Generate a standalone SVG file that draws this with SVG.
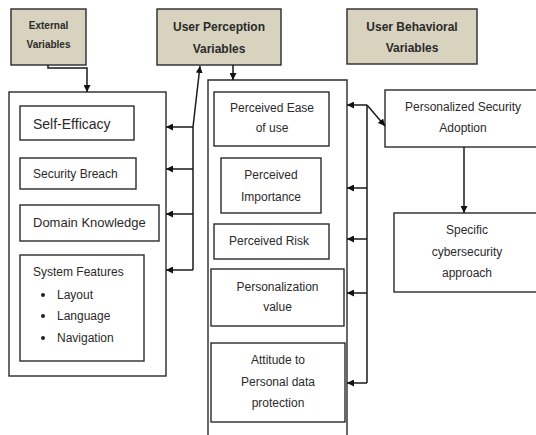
<svg xmlns="http://www.w3.org/2000/svg" width="536" height="435" viewBox="0 0 536 435">
  <style>
    .box { fill: #ffffff; stroke: #2a2a2a; stroke-width: 1.4; }
    .head { fill: #d8d3bf; stroke: #2a2a2a; stroke-width: 1.4; }
    .t { font-family: "Liberation Sans", Arial, sans-serif; font-size: 12px; fill: #2a2a2a; }
    .c { text-anchor: middle; }
    .b { font-weight: bold; }
    .s10 { font-size: 10px; }
    .s13 { font-size: 13px; }
    .s14 { font-size: 14px; }
    .edge { fill: none; stroke: #1a1a1a; stroke-width: 1.5; }
  </style>
  <defs>
    <marker id="arr" viewBox="0 0 10 10" refX="10" refY="5" markerWidth="7" markerHeight="7" markerUnits="userSpaceOnUse" orient="auto">
      <path d="M0,0 L10,5 L0,10 Z" fill="#111"/>
    </marker>
  </defs>
  <rect width="536" height="435" fill="#ffffff"/>

  <!-- category headers -->
  <g id="external-variables">
    <rect class="head" x="11" y="9" width="75" height="56"/>
    <text class="t c b s10" x="48.5" y="29">External</text>
    <text class="t c b s10" x="48.5" y="48">Variables</text>
  </g>
  <g id="user-perception-variables">
    <rect class="head" x="157" y="9" width="124" height="56"/>
    <text class="t c b" x="219" y="31">User Perception</text>
    <text class="t c b" x="219" y="53">Variables</text>
  </g>
  <g id="user-behavioral-variables">
    <rect class="head" x="347" y="9" width="130" height="55"/>
    <text class="t c b" x="412" y="31">User Behavioral</text>
    <text class="t c b" x="412" y="52">Variables</text>
  </g>

  <!-- external variables column -->
  <g id="external-group">
    <rect class="box" x="9" y="92" width="157" height="284"/>
  </g>
  <g id="self-efficacy">
    <rect class="box" x="20" y="106" width="114" height="34"/>
    <text class="t s14" x="33" y="129">Self-Efficacy</text>
  </g>
  <g id="security-breach">
    <rect class="box" x="20" y="158" width="116" height="31"/>
    <text class="t" x="33" y="178">Security Breach</text>
  </g>
  <g id="domain-knowledge">
    <rect class="box" x="20" y="205" width="139" height="36"/>
    <text class="t s13" x="33" y="227">Domain Knowledge</text>
  </g>
  <g id="system-features">
    <rect class="box" x="20" y="255" width="124" height="106"/>
    <text class="t" x="33" y="276">System Features</text>
    <circle cx="43" cy="295" r="2" fill="#222"/>
    <text class="t" x="57" y="299">Layout</text>
    <circle cx="43" cy="316" r="2" fill="#222"/>
    <text class="t" x="57" y="320">Language</text>
    <circle cx="43" cy="338" r="2" fill="#222"/>
    <text class="t" x="57" y="342">Navigation</text>
  </g>

  <!-- perception column -->
  <g id="perception-group">
    <path class="box" d="M208,440 V80 H347 V440" />
  </g>
  <g id="perceived-ease">
    <rect class="box" x="214" y="92" width="115" height="54"/>
    <text class="t c" x="272" y="112">Perceived Ease</text>
    <text class="t c" x="272" y="132">of use</text>
  </g>
  <g id="perceived-importance">
    <rect class="box" x="221" y="158" width="100" height="55"/>
    <text class="t c" x="271" y="179">Perceived</text>
    <text class="t c" x="271" y="201">Importance</text>
  </g>
  <g id="perceived-risk">
    <rect class="box" x="214" y="224" width="115" height="35"/>
    <text class="t c" x="269" y="245">Perceived Risk</text>
  </g>
  <g id="personalization-value">
    <rect class="box" x="211" y="269" width="133" height="57"/>
    <text class="t c" x="277.5" y="291">Personalization</text>
    <text class="t c" x="277.5" y="311">value</text>
  </g>
  <g id="attitude">
    <rect class="box" x="211" y="343" width="134" height="79"/>
    <text class="t c" x="278" y="364">Attitude to</text>
    <text class="t c" x="278" y="386">Personal data</text>
    <text class="t c" x="278" y="407">protection</text>
  </g>

  <!-- behavioral column -->
  <g id="personalized-security-adoption">
    <rect class="box" x="385" y="90" width="152" height="57"/>
    <text class="t c" x="463" y="111">Personalized Security</text>
    <text class="t c" x="463" y="132">Adoption</text>
  </g>
  <g id="specific-approach">
    <rect class="box" x="394" y="213" width="143" height="79"/>
    <text class="t c" x="467" y="234">Specific</text>
    <text class="t c" x="467" y="256">cybersecurity</text>
    <text class="t c" x="467" y="277">approach</text>
  </g>

  <!-- connectors -->
  <g id="connectors">
    <path class="edge" d="M48,65 V68 H87 V92" marker-end="url(#arr)"/>
    <path class="edge" d="M233,65 V80" marker-end="url(#arr)"/>
    <path class="edge" d="M193,127 L200,66" marker-end="url(#arr)"/>
    <path class="edge" d="M193,127 V270"/>
    <path class="edge" d="M193,127 H166" marker-end="url(#arr)"/>
    <path class="edge" d="M193,169 H166" marker-end="url(#arr)"/>
    <path class="edge" d="M193,214 H166" marker-end="url(#arr)"/>
    <path class="edge" d="M193,270 H166" marker-end="url(#arr)"/>

    <path class="edge" d="M367,105 V383"/>
    <path class="edge" d="M367,105 H347" marker-end="url(#arr)"/>
    <path class="edge" d="M367,105 L385,126" marker-end="url(#arr)"/>
    <path class="edge" d="M367,188 H347" marker-end="url(#arr)"/>
    <path class="edge" d="M367,239 H347" marker-end="url(#arr)"/>
    <path class="edge" d="M367,293 H347" marker-end="url(#arr)"/>
    <path class="edge" d="M367,383 H347" marker-end="url(#arr)"/>

    <path class="edge" d="M464,147 V213" marker-end="url(#arr)"/>
  </g>
</svg>
